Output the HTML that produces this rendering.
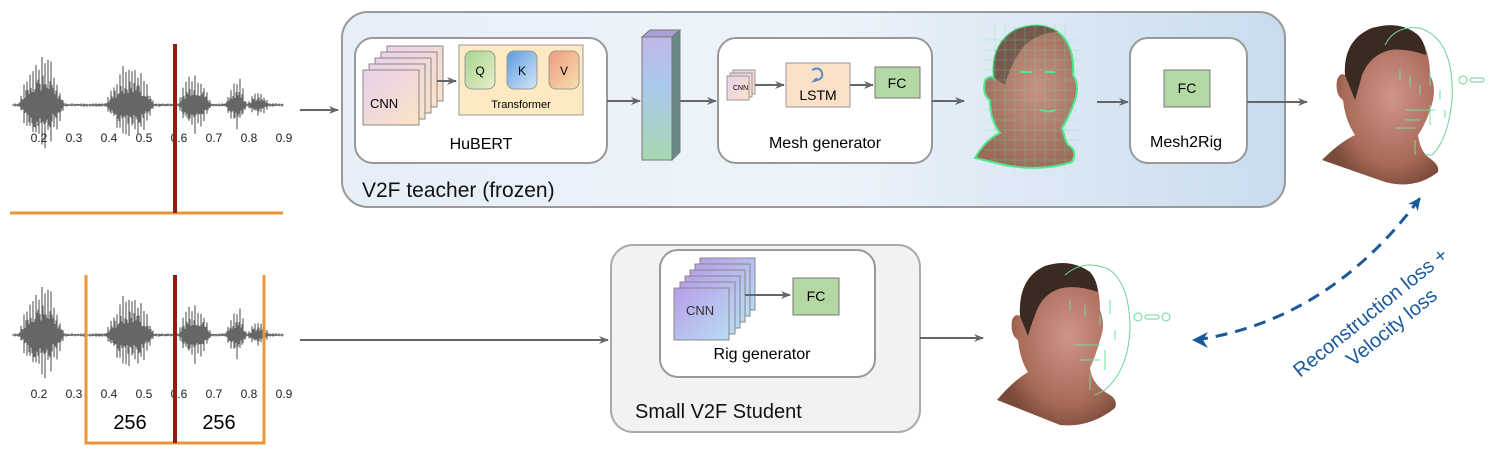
<!DOCTYPE html>
<html><head><meta charset="utf-8"><style>
html,body{margin:0;padding:0;background:#fff;}
svg{display:block;font-family:"Liberation Sans",sans-serif;}
</style></head><body>
<svg id="s" width="1495" height="460" viewBox="0 0 1495 460" xmlns="http://www.w3.org/2000/svg">
<defs>
<linearGradient id="tg" x1="0" y1="0" x2="1" y2="0"><stop offset="0" stop-color="#e6eef8"/><stop offset="0.5" stop-color="#edf3fa"/><stop offset="1" stop-color="#c9dcee"/></linearGradient>
<linearGradient id="cnn" x1="0" y1="0" x2="1" y2="1"><stop offset="0" stop-color="#e9d0ea"/><stop offset="1" stop-color="#fbe3c8"/></linearGradient>
<linearGradient id="cnn2" x1="0" y1="0" x2="1" y2="1"><stop offset="0" stop-color="#b89ee8"/><stop offset="1" stop-color="#b8dcf4"/></linearGradient>
<linearGradient id="bar" x1="0" y1="0" x2="0" y2="1"><stop offset="0" stop-color="#c0b8ea"/><stop offset="0.4" stop-color="#aac8ee"/><stop offset="1" stop-color="#a8d8b0"/></linearGradient>
<linearGradient id="qg" x1="0" y1="0" x2="1" y2="1"><stop offset="0" stop-color="#a8d490"/><stop offset="1" stop-color="#e6f0c8"/></linearGradient>
<linearGradient id="kg" x1="0" y1="0" x2="1" y2="1"><stop offset="0" stop-color="#5a9ae0"/><stop offset="1" stop-color="#d8e8f6"/></linearGradient>
<linearGradient id="vg" x1="0" y1="0" x2="1" y2="1"><stop offset="0" stop-color="#f09a80"/><stop offset="1" stop-color="#f6e0b0"/></linearGradient>
<radialGradient id="skin" cx="0.6" cy="0.45" r="0.6"><stop offset="0" stop-color="#d0958a"/><stop offset="0.7" stop-color="#a86a58"/><stop offset="1" stop-color="#7a4a3a"/></radialGradient>
<radialGradient id="mskin" cx="0.6" cy="0.45" r="0.6"><stop offset="0" stop-color="#c89080"/><stop offset="1" stop-color="#9a6a5a"/></radialGradient>
<marker id="ah" markerWidth="10" markerHeight="8" refX="9" refY="4" orient="auto" markerUnits="userSpaceOnUse"><path d="M0,0 L10,4 L0,8 L3,4z" fill="#666"/></marker>
<marker id="bh" markerWidth="14" markerHeight="12" refX="12" refY="6" orient="auto" markerUnits="userSpaceOnUse"><path d="M0,0 L13,6 L0,12 L4,6z" fill="#1a5a9a"/></marker>
</defs>

<rect x="342" y="12" width="943" height="195" rx="26" fill="url(#tg)" stroke="#999" stroke-width="2"/>
<text x="362" y="197" font-size="21" fill="#111">V2F teacher (frozen)</text>

<rect x="355" y="38" width="252" height="125" rx="18" fill="#fff" stroke="#999" stroke-width="2"/>
<g stroke="#888" stroke-width="1" fill="url(#cnn)">
<rect x="387" y="46" width="56" height="55"/><rect x="381" y="52" width="56" height="55"/><rect x="375" y="58" width="56" height="55"/><rect x="369" y="64" width="56" height="55"/><rect x="363" y="70" width="56" height="55"/>
</g>
<text x="370" y="108" font-size="13">CNN</text>
<line x1="437" y1="81" x2="456" y2="81" stroke="#666" stroke-width="2" marker-end="url(#ah)"/>
<rect x="459" y="45" width="124" height="70" fill="#fde9c2" stroke="#999"/>
<rect x="465" y="51" width="30" height="38" rx="7" fill="url(#qg)" stroke="#999"/>
<rect x="507" y="51" width="30" height="38" rx="7" fill="url(#kg)" stroke="#999"/>
<rect x="549" y="51" width="30" height="38" rx="7" fill="url(#vg)" stroke="#999"/>
<text x="480" y="75" font-size="12" text-anchor="middle">Q</text>
<text x="522" y="75" font-size="12" text-anchor="middle">K</text>
<text x="564" y="75" font-size="12" text-anchor="middle">V</text>
<text x="521" y="108" font-size="11" text-anchor="middle">Transformer</text>
<text x="481" y="149" font-size="16" text-anchor="middle">HuBERT</text>

<line x1="607" y1="101" x2="640" y2="101" stroke="#666" stroke-width="2" marker-end="url(#ah)"/>
<polygon points="642,37 672,37 680,30 650,30" fill="#a8a0d8" stroke="#777"/>
<polygon points="672,37 680,30 680,152 672,160" fill="#6a8a88" stroke="#777"/>
<rect x="642" y="37" width="30" height="123" fill="url(#bar)" stroke="#777"/>
<line x1="680" y1="101" x2="716" y2="101" stroke="#666" stroke-width="2" marker-end="url(#ah)"/>

<rect x="718" y="38" width="214" height="125" rx="18" fill="#fff" stroke="#999" stroke-width="2"/>
<g stroke="#999" stroke-width="1" fill="url(#cnn)">
<rect x="733" y="70" width="22" height="24"/><rect x="730" y="73" width="22" height="24"/><rect x="727" y="76" width="22" height="24"/>
</g>
<text x="733" y="90" font-size="7">CNN</text>
<line x1="755" y1="85" x2="784" y2="85" stroke="#666" stroke-width="2" marker-end="url(#ah)"/>
<rect x="786" y="63" width="64" height="44" fill="#fbe0c8" stroke="#999"/>
<path d="M812,70 q8,-4 10,3 q2,6 -8,8 l3,-3" fill="none" stroke="#5a8ac0" stroke-width="2"/>
<text x="818" y="100" font-size="14" text-anchor="middle">LSTM</text>
<line x1="850" y1="85" x2="873" y2="85" stroke="#666" stroke-width="2" marker-end="url(#ah)"/>
<rect x="875" y="67" width="45" height="31" fill="#b4d8a4" stroke="#777"/>
<text x="897" y="88" font-size="14" text-anchor="middle">FC</text>
<text x="825" y="148" font-size="16" text-anchor="middle">Mesh generator</text>
<line x1="932" y1="101" x2="964" y2="101" stroke="#666" stroke-width="2" marker-end="url(#ah)"/>

<!-- mesh head -->
<g>
<path d="M975,158 Q985,140 1000,133 Q990,120 990,100 Q982,95 985,80 Q990,75 994,78 Q990,45 1015,30 Q1040,20 1058,32 Q1075,45 1073,75 Q1080,85 1075,100 Q1070,115 1062,128 Q1065,140 1068,145 Q1078,150 1072,162 Q1040,172 1005,165 Z" fill="url(#mskin)" stroke="#4ee88a" stroke-width="2"/>
<path d="M994,78 Q990,45 1015,30 Q1040,20 1058,32 Q1040,32 1025,45 Q1012,60 1005,85 Z" fill="#6a5048" opacity="0.8"/>
<g stroke="#5ee89a" stroke-width="0.5" opacity="0.55" fill="none">
<path d="M985,40 H1078 M985,50 H1078 M985,60 H1078 M985,70 H1078 M985,80 H1078 M985,90 H1078 M985,100 H1078 M985,110 H1078 M985,120 H1078 M985,130 H1078 M985,140 H1078 M985,150 H1078 M985,160 H1078 M995,25 V170 M1005,25 V170 M1015,25 V170 M1025,25 V170 M1035,25 V170 M1045,25 V170 M1055,25 V170 M1065,25 V170"/>
</g>
<path d="M1020,72 h12 M1045,72 h10 M1040,110 q8,3 16,0" stroke="#4ee88a" stroke-width="2" fill="none"/>
</g>
<line x1="1097" y1="102" x2="1128" y2="102" stroke="#666" stroke-width="2" marker-end="url(#ah)"/>
<rect x="1130" y="38" width="117" height="125" rx="18" fill="#fff" stroke="#999" stroke-width="2"/>
<rect x="1164" y="70" width="46" height="37" fill="#b4d8a4" stroke="#777"/>
<text x="1187" y="93" font-size="14" text-anchor="middle">FC</text>
<text x="1150" y="147" font-size="16">Mesh2Rig</text>
<line x1="1247" y1="102" x2="1307" y2="102" stroke="#666" stroke-width="2" marker-end="url(#ah)"/>

<!-- top right head -->
<g>
<path d="M1322,160 Q1340,142 1355,135 Q1345,120 1343,100 Q1335,95 1337,80 Q1340,72 1345,75 Q1343,40 1372,28 Q1400,20 1418,35 Q1430,50 1430,75 Q1438,90 1430,110 Q1425,125 1418,135 Q1420,150 1428,157 Q1440,165 1438,172 Q1415,190 1385,182 Z" fill="url(#skin)"/>
<path d="M1345,75 Q1343,40 1372,28 Q1400,20 1418,35 Q1425,42 1426,55 Q1405,48 1390,50 Q1370,55 1362,75 Q1358,90 1355,100 Z" fill="#3a2a22"/>
<path d="M1385,45 Q1395,25 1420,28 Q1455,40 1452,100 Q1448,140 1432,155 L1425,155" fill="none" stroke="#70d098" stroke-width="1"/>
<circle cx="1463" cy="80" r="4" fill="none" stroke="#70d098"/><rect x="1470" y="78" width="14" height="4" rx="2" fill="none" stroke="#70d098"/>
<g stroke="#6ee09a" stroke-width="1"><path d="M1400,70 v10 M1410,75 v12 M1420,85 v10 M1430,72 v14 M1440,90 v10 M1405,110 h30 M1405,120 h15 M1430,105 v20 M1445,110 v8 M1395,128 h20 M1415,140 v15"/></g>
</g>

<!-- bottom -->
<line x1="300" y1="340" x2="608" y2="340" stroke="#666" stroke-width="2" marker-end="url(#ah)"/>
<rect x="611" y="245" width="309" height="187" rx="22" fill="#f2f2f2" stroke="#aaa" stroke-width="2"/>
<rect x="660" y="250" width="215" height="127" rx="18" fill="#fff" stroke="#999" stroke-width="2"/>
<g stroke="#888" stroke-width="1" fill="url(#cnn2)">
<rect x="700" y="258" width="55" height="52"/><rect x="695" y="264" width="55" height="52"/><rect x="690" y="270" width="55" height="52"/><rect x="685" y="276" width="55" height="52"/><rect x="680" y="282" width="55" height="52"/><rect x="674" y="288" width="55" height="52"/>
</g>
<text x="686" y="315" font-size="13" fill="#333">CNN</text>
<line x1="745" y1="295" x2="790" y2="295" stroke="#666" stroke-width="2" marker-end="url(#ah)"/>
<rect x="793" y="278" width="46" height="37" fill="#b4d8a4" stroke="#777"/>
<text x="816" y="301" font-size="14" text-anchor="middle">FC</text>
<text x="762" y="359" font-size="16" text-anchor="middle">Rig generator</text>
<text x="635" y="418" font-size="20" fill="#111">Small V2F Student</text>
<line x1="920" y1="338" x2="983" y2="338" stroke="#666" stroke-width="2" marker-end="url(#ah)"/>

<g>
<path d="M997,400 Q1012,382 1028,372 Q1020,360 1018,340 Q1010,335 1012,320 Q1015,313 1020,316 Q1018,278 1045,266 Q1070,258 1090,272 Q1100,285 1100,310 Q1106,325 1100,340 Q1096,355 1090,368 Q1092,385 1110,395 Q1118,400 1115,408 Q1090,428 1060,425 Z" fill="url(#skin)"/>
<path d="M1020,316 Q1018,278 1045,266 Q1070,258 1090,272 Q1097,280 1098,292 Q1078,285 1062,288 Q1042,293 1035,315 Q1030,328 1028,336 Z" fill="#3a2a22"/>
<path d="M1065,275 Q1085,258 1110,270 Q1130,285 1130,330 Q1128,370 1105,390 L1095,395" fill="none" stroke="#70d098" stroke-width="1"/>
<circle cx="1138" cy="317" r="4" fill="none" stroke="#70d098"/><rect x="1145" y="315" width="14" height="4" rx="2" fill="none" stroke="#70d098"/><circle cx="1166" cy="317" r="4" fill="none" stroke="#70d098"/>
<g stroke="#6ee09a" stroke-width="1"><path d="M1070,300 v10 M1085,305 v12 M1100,315 v10 M1110,300 v14 M1115,330 v10 M1075,345 h25 M1080,360 h20 M1105,350 v20 M1090,375 v15"/></g>
</g>

<!-- loss arrow -->
<path d="M1196,340 Q1330,320 1420,198" fill="none" stroke="#1a5a9a" stroke-width="3" stroke-dasharray="12,8" marker-end="url(#bh)"/>
<path d="M1192,340 L1208,332 L1203,340 L1208,348 Z" fill="#1a5a9a"/>
<g fill="#1a5a9a" font-size="20">
<text transform="translate(1300,378) rotate(-39)">Reconstruction loss +</text>
<text transform="translate(1353,367) rotate(-39)">Velocity loss</text>
</g>

<g id="w1"></g>
<g id="w2"></g>
<g font-size="12" fill="#222" text-anchor="middle" id="ticks"></g>

<line x1="300" y1="110" x2="338" y2="110" stroke="#666" stroke-width="2" marker-end="url(#ah)"/>
<line x1="10" y1="213" x2="283" y2="213" stroke="#e8963a" stroke-width="3"/>
<line x1="175" y1="44" x2="175" y2="213" stroke="#8b2010" stroke-width="4"/>
<path d="M86,275 V443 H264 V275" fill="none" stroke="#e8963a" stroke-width="3"/>
<line x1="175" y1="275" x2="175" y2="443" stroke="#8b2010" stroke-width="4"/>
<text x="130" y="429" font-size="20" text-anchor="middle">256</text>
<text x="219" y="429" font-size="20" text-anchor="middle">256</text>
</svg>
<script>
(function(){
var NS="http://www.w3.org/2000/svg";
/* [start,end,peak,ampUp,ampDown] */
var env=[[18,65,42,55,48],[105,155,130,45,40],[178,212,193,37,30],[225,247,238,30,25],[246,270,258,14,12]];
function amp(x){var u=2,d=2;for(var i=0;i<env.length;i++){var e=env[i];if(x>=e[0]&&x<=e[1]){var t=x<e[2]?(x-e[0])/(e[2]-e[0]):(e[1]-x)/(e[1]-e[2]);var s=Math.sin(t*Math.PI/2);u=Math.max(u,e[3]*s);d=Math.max(d,e[4]*s);}}return [u,d];}
var seed=7;function r(){seed=(seed*9301+49297)%233280;return seed/233280;}
function draw(id,cy){var d="";for(var x=13;x<=283;x+=1){var a=amp(x);var big=(x%3==0);var f1=big?(0.6+0.4*r()):(0.25+0.3*r());var f2=big?(0.5+0.5*r()):(0.25+0.3*r());d+="M"+x+","+(cy-a[0]*f1).toFixed(1)+"V"+(cy+a[1]*f2).toFixed(1);}
var p=document.createElementNS(NS,"path");p.setAttribute("d",d);p.setAttribute("stroke","#666");p.setAttribute("stroke-width","1.2");document.getElementById(id).appendChild(p);}
seed=7;draw("w1",105);seed=7;draw("w2",335);
var g=document.getElementById("ticks");
for(var i=2;i<=9;i++){var x=39+(i-2)*35;[142,398].forEach(function(y){var t=document.createElementNS(NS,"text");t.setAttribute("x",x);t.setAttribute("y",y);t.textContent="0."+i;g.appendChild(t);});}
})();
</script>
</body></html>
